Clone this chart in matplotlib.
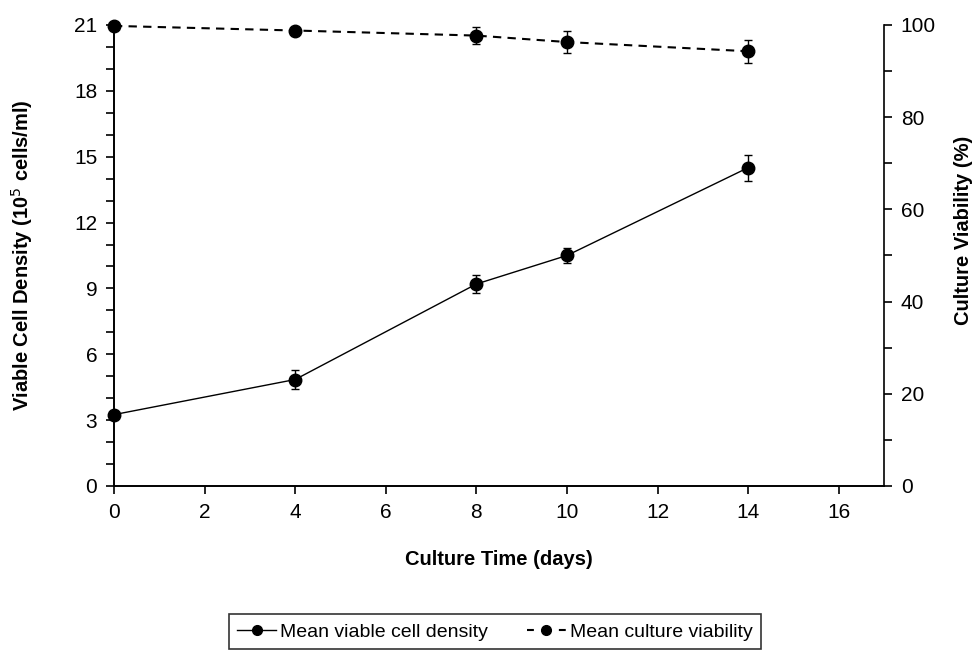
import matplotlib.pyplot as plt
from matplotlib.lines import Line2D
from matplotlib.ticker import MultipleLocator

plt.rcParams['font.family'] = ['Liberation Sans', 'DejaVu Sans']

days = [0, 4, 8, 10, 14]
density = [3.25, 4.85, 9.2, 10.5, 14.5]
density_err = [0.0, 0.45, 0.4, 0.35, 0.6]
viability = [99.8, 98.8, 97.7, 96.3, 94.3]
viability_err = [0.0, 0.5, 1.9, 2.3, 2.5]

fig = plt.figure(figsize=(9.79, 6.54), dpi=100)
ax1 = fig.add_axes([0.1164, 0.2569, 0.7866, 0.7049])
ax2 = ax1.twinx()

ax1.errorbar(days, density, yerr=density_err, color='black', lw=1, marker='o',
             ms=9, capsize=3, elinewidth=1, capthick=1, clip_on=False)
ax2.errorbar(days, viability, yerr=viability_err, color='black', lw=1.5, ls=(0, (4, 3)),
             marker='o', ms=9, capsize=3, elinewidth=1, capthick=1, clip_on=False)

ax1.set_xlim(0, 17)
ax1.set_ylim(0, 21)
ax2.set_ylim(0, 100)
ax1.set_xticks(range(0, 17, 2))
ax1.yaxis.set_major_locator(MultipleLocator(3))
ax1.yaxis.set_minor_locator(MultipleLocator(1))
ax2.yaxis.set_major_locator(MultipleLocator(20))
ax2.yaxis.set_minor_locator(MultipleLocator(10))

for ax in (ax1, ax2):
    ax.spines['top'].set_visible(False)
    for s in ax.spines.values():
        s.set_linewidth(1.2)
    ax.tick_params(which='both', labelsize=15, width=1.2, length=6, pad=6, color='black')
ax1.spines['right'].set_visible(False)

ax1.set_xlabel('Culture Time (days)', fontsize=14.5, fontweight='bold')
ax1.xaxis.set_label_coords(0.5, -0.16)
ax1.xaxis.label.set_va('center')
ax1.set_ylabel('Viable Cell Density (10$^5$ cells/ml)', fontsize=14.5, fontweight='bold')
ax1.yaxis.set_label_coords(-0.1195, 0.5)
ax1.yaxis.label.set_va('center')
ax2.set_ylabel('Culture Viability (%)', fontsize=14.5, fontweight='bold')
ax2.yaxis.set_label_coords(1.1026, 0.555)
ax2.yaxis.label.set_va('center')

# legend shows plain line + marker samples (one dash either side for the dashed one)
handles = [Line2D([], [], color='black', lw=1, marker='o', ms=7),
           Line2D([], [], color='black', lw=1.5, ls=(0, (3.3, 12)), marker='o', ms=7)]
leg = fig.legend(handles, ['Mean viable cell density', 'Mean culture viability'],
                 loc='center', bbox_to_anchor=(0.5056, 0.034), ncol=2, fontsize=14,
                 frameon=True, fancybox=False, edgecolor='black', handlelength=2,
                 handletextpad=0.2, columnspacing=2.0, borderpad=0.45)
leg.get_frame().set_linewidth(1.2)

fig.savefig('out.png', dpi=100)
